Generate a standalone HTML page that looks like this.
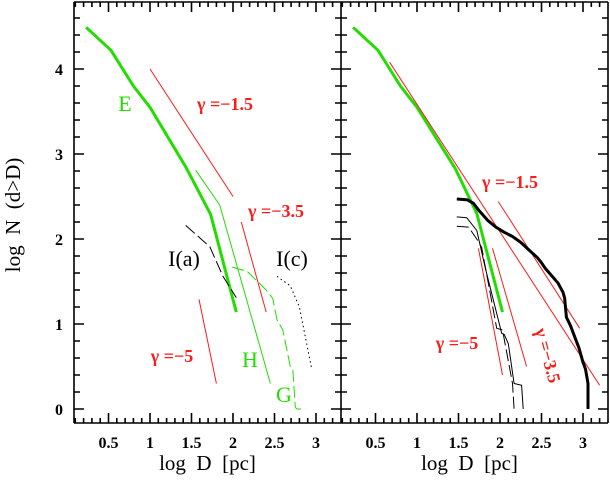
<!DOCTYPE html>
<html><head><meta charset="utf-8">
<style>
html,body{margin:0;padding:0;background:#fff;}
svg{display:block;}
text{font-family:"Liberation Serif",serif;}
</style></head>
<body>
<svg id="chart" width="610" height="481" xmlns="http://www.w3.org/2000/svg"></svg>
<script>
// ---- data ----
const xTicks = [0.5, 1, 1.5, 2, 2.5, 3];
const yTicks = [0, 1, 2, 3, 4];
// left panel
const curveE_x = [0.23, 0.53, 0.8, 1.0, 1.43, 1.73, 2.04];
const curveE_y = [4.49, 4.22, 3.8, 3.55, 2.85, 2.29, 1.14];
const curveH_x = [1.55, 1.84, 2.45];
const curveH_y = [2.81, 2.4, 0.3];
const curveG_x = [1.99, 2.17, 2.4, 2.48, 2.53, 2.6, 2.69, 2.72, 2.75, 2.77, 2.87];
const curveG_y = [1.67, 1.62, 1.4, 1.3, 1.05, 0.93, 0.5, 0.47, 0.02, 0, 0];
const curveIa_x = [1.43, 1.72, 1.88, 2.04];
const curveIa_y = [2.16, 1.91, 1.56, 1.31];
const curveIc_x = [2.53, 2.69, 2.8, 2.95];
const curveIc_y = [1.56, 1.45, 1.2, 0.46];
const fitL15_x = [1.0, 2.0], fitL15_y = [4.0, 2.5];
const fitL35_x = [2.1, 2.4], fitL35_y = [2.2, 1.14];
const fitL5_x = [1.59, 1.8], fitL5_y = [1.29, 0.3];
// right panel
const greenR_x = [0.23, 0.53, 0.8, 1.0, 1.46, 1.72, 2.03];
const greenR_y = [4.49, 4.22, 3.8, 3.55, 2.83, 2.3, 1.14];
const blackThick_x = [1.48, 1.61, 1.68, 1.75, 1.85, 1.95, 2.05, 2.15, 2.25, 2.35, 2.45, 2.5, 2.55, 2.62, 2.7, 2.76, 2.78, 2.8, 2.85, 2.9, 2.95, 3.0, 3.03, 3.06, 3.06];
const blackThick_y = [2.47, 2.46, 2.42, 2.33, 2.22, 2.14, 2.08, 2.03, 1.96, 1.87, 1.78, 1.72, 1.65, 1.57, 1.48, 1.37, 1.3, 1.08, 0.98, 0.85, 0.72, 0.55, 0.47, 0.3, 0];
const blackThin_x = [1.48, 1.6, 1.72, 1.82, 2.02, 2.05, 2.1, 2.17, 2.26, 2.28];
const blackThin_y = [2.26, 2.25, 2.1, 1.67, 0.89, 0.88, 0.77, 0.3, 0.28, 0];
const blackDash_x = [1.48, 1.62, 1.72, 1.78, 1.96, 2.03, 2.15, 2.17];
const blackDash_y = [2.15, 2.14, 2.0, 1.9, 0.95, 0.93, 0.3, 0];
const fitR15a_x = [0.67, 3.2], fitR15a_y = [4.08, 0.28];
const fitR15b_x = [1.98, 2.96], fitR15b_y = [2.44, 0.95];
const fitR5_x = [1.74, 2.03], fitR5_y = [1.89, 0.4];
const fitR35_x = [1.91, 2.32], fitR35_y = [1.89, 0.5];

// ---- axes ----
const PX0 = [74, 341], PW = 267, PT = 2, PB = 423;
function xL(v){ return 67 + v*83; }
function xR(v){ return 334 + v*83; }
function yS(v){ return 409 - v*85; }

const svg = document.getElementById('chart');
const NS = 'http://www.w3.org/2000/svg';
function mk(tag, attrs){ const e=document.createElementNS(NS,tag); for(const k in attrs) e.setAttribute(k,attrs[k]); svg.appendChild(e); return e; }

function poly(xs, ys, xf, color, w, dash, name){
  const pts = xs.map((x,i)=> xf(x).toFixed(1)+','+yS(ys[i]).toFixed(1)).join(' ');
  const e = mk('polyline',{points:pts,fill:'none',stroke:color,'stroke-width':w,'stroke-linejoin':'round'});
  if(dash) e.setAttribute('stroke-dasharray',dash);
  
  
}
function rawPoly(pts, w, name){
  const e = mk('polyline',{points:pts.map(p=>p[0].toFixed(1)+','+p[1].toFixed(1)).join(' '),fill:'none',stroke:'#000','stroke-width':w,'stroke-linejoin':'miter'});
  
  
}
function txt(x,y,s,color,size,name,extra){
  const e = mk('text',{x:x,y:y,fill:color,'font-size':size,'text-anchor':'middle'});
  if(extra) for(const k in extra) e.setAttribute(k,extra[k]);
  e.textContent = s;
  
  
  return e;
}

// axis lines with ticks drawn as zig-zag polylines
function hAxis(xf, left, right, y, dir, name){
  const pts=[[left,y]];
  for(let i=1;i<=33;i++){
    const x=xf(i/10); if(x<=left+1||x>=right-1) continue;
    const L=(i%5===0)?10:5;
    pts.push([x,y],[x,y+dir*L],[x,y]);
  }
  pts.push([right,y]);
  rawPoly(pts, 1.6, name);
}
function vAxis(x, dirs, name){
  const pts=[[x,PB]];
  for(let i=0;i<=24;i++){
    const y=yS(i/5); if(y<=PT+1||y>=PB-1) continue;
    const L=(i%5===0)?10:6;
    pts.push([x,y]);
    dirs.forEach(d=>{ pts.push([x+d*L,y],[x,y]); });
  }
  pts.push([x,PT]);
  rawPoly(pts, 1.6, name);
}
hAxis(xL, 74, 341, PB, -1, 'left-x-axis-bottom');
hAxis(xL, 74, 341, PT, 1, 'left-x-axis-top');
hAxis(xR, 341, 608, PB, -1, 'right-x-axis-bottom');
hAxis(xR, 341, 608, PT, 1, 'right-x-axis-top');
vAxis(74, [1], 'left-y-axis');
vAxis(341, [1,-1], 'middle-y-axis');
vAxis(608, [-1], 'right-y-axis');

[0,1].forEach(p=>{
  const xf = p===0 ? xL : xR;
  const left = PX0[p];
  xTicks.forEach(v=>{
    txt(xf(v), 448, String(v), '#000', 16, 'x-tick-label', {'font-family':'"Liberation Sans",sans-serif','font-weight':'bold'});
  });
  txt(left+PW/2 + (p===0?0:-5), 470, 'log  D  [pc]', '#000', 21, p===0?'x-axis-title-left':'x-axis-title-right', {'style':'white-space:pre'});
});
yTicks.forEach(v=>{
  txt(59, yS(v)+6, String(v), '#000', 16, 'y-tick-label', {'font-family':'"Liberation Sans",sans-serif','font-weight':'bold'});
});
txt(20, 215, 'log  N  (d>D)', '#000', 21, 'y-axis-title', {transform:'rotate(-90 20 215)', 'style':'white-space:pre'});

const GR='#22dd00', RD='#ff1a1a';
// left panel
poly(fitL15_x, fitL15_y, xL, RD, 1, null, 'fit-gamma-1.5-left');
poly(fitL35_x, fitL35_y, xL, RD, 1, null, 'fit-gamma-3.5-left');
poly(fitL5_x, fitL5_y, xL, RD, 1, null, 'fit-gamma-5-left');
poly(curveE_x, curveE_y, xL, GR, 3, null, 'curve-e');
poly(curveH_x, curveH_y, xL, GR, 1, null, 'curve-h');
poly(curveG_x, curveG_y, xL, GR, 1, '12,4', 'curve-g');
poly(curveIa_x, curveIa_y, xL, '#000', 1, '12,4', 'curve-ia');
poly(curveIc_x, curveIc_y, xL, '#000', 1, '1.5,3', 'curve-ic');
// right panel
poly(greenR_x, greenR_y, xR, GR, 3, null, 'curve-green-right');
poly(fitR15a_x, fitR15a_y, xR, RD, 1, null, 'fit-gamma-1.5-right-long');
poly(fitR15b_x, fitR15b_y, xR, RD, 1, null, 'fit-gamma-1.5-right-short');
poly(fitR5_x, fitR5_y, xR, RD, 1, null, 'fit-gamma-5-right');
poly(fitR35_x, fitR35_y, xR, RD, 1, null, 'fit-gamma-3.5-right');
poly(blackThin_x, blackThin_y, xR, '#000', 1, null, 'curve-black-thin');
poly(blackDash_x, blackDash_y, xR, '#000', 1, '12,4', 'curve-black-dashed');
poly(blackThick_x, blackThick_y, xR, '#000', 3, null, 'curve-black-thick');

// labels
const gf = {'font-family':'"Liberation Sans",sans-serif','font-weight':'bold'};
txt(125, 111, 'E', GR, 22, 'label-e');
txt(250, 367, 'H', GR, 22, 'label-h');
txt(284, 402, 'G', GR, 22, 'label-g');
txt(184, 266, 'I(a)', '#000', 22, 'label-ia');
txt(292, 266, 'I(c)', '#000', 22, 'label-ic');
txt(225, 110, 'γ =−1.5', RD, 18, 'label-gamma-1.5-left', gf);
txt(276, 217, 'γ =−3.5', RD, 18, 'label-gamma-3.5-left', gf);
txt(172, 362, 'γ =−5', RD, 18, 'label-gamma-5-left', gf);
txt(510, 188, 'γ =−1.5', RD, 18, 'label-gamma-1.5-right', gf);
txt(457, 349, 'γ =−5', RD, 18, 'label-gamma-5-right', gf);
txt(542, 357, 'γ =−3.5', RD, 18, 'label-gamma-3.5-right', Object.assign({transform:'rotate(75 542 357)'}, gf));
</script>
</body></html>
